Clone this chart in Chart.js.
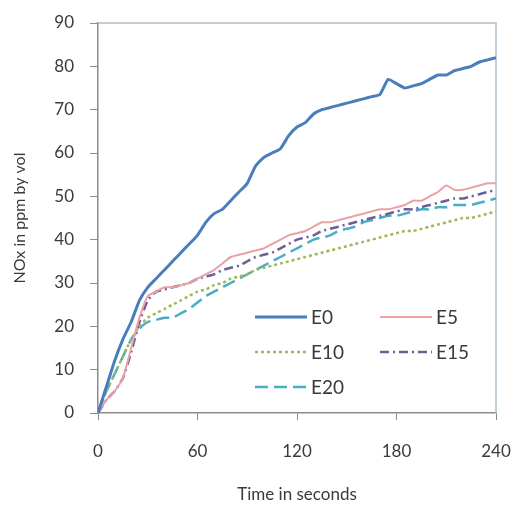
<!DOCTYPE html>
<html>
<head>
<meta charset="utf-8">
<script src="https://cdn.jsdelivr.net/npm/chart.js@4"></script>
<style>
  html, body { margin: 0; padding: 0; background: #ffffff; }
  #wrap { width: 517px; height: 509px; }
</style>
</head>
<body>
<div id="wrap"><canvas id="c" width="517" height="509"></canvas></div>
<script>
// time axis (seconds)
var times = [0,5,10,15,20,25,30,35,40,45,50,55,60,65,70,75,80,85,90,95,100,105,110,115,120,
             125,130,135,140,145,150,155,160,165,170,175,180,185,190,195,200,205,210,215,220,225,230,235,240];

// NOx readings, ppm by vol
var e0  = [0,6,12,17,21,26,29,31,33,35,37,39,41,44,46,47,49,51,53,57,59,60,61,64,66,
           67,69,70,70.5,71,71.5,72,72.5,73,73.5,77,76,75,75.5,76,77,78,78,79,79.5,80,81,81.5,82];
var e5  = [0,3,5,8,15,22,27,28,29,29,29.5,30,31,32,33,34.5,36,36.5,37,37.5,38,39,40,41,41.5,
           42,43,44,44,44.5,45,45.5,46,46.5,47,47,47.5,48,49,49,50,51,52.5,51.5,51.5,52,52.5,53,53];
var e10 = [0,5,9,13,17,20,22,23,24,25,26,27,28,28.5,29.5,30,31,31.5,32,33,33.5,34,34.5,35,35.5,
           36,36.5,37,37.5,38,38.5,39,39.5,40,40.5,41,41.5,42,42,42.5,43,43.5,44,44.5,45,45,45.5,46,46.5];
var e15 = [0,3,5,8,14,21,26,28,28.5,29,29.5,30,31,31.5,32,33,33.5,34,35,36,36.5,37,38,39,40,
           40.5,41,42,42.5,43,43.5,44,44.5,45,45.5,46,46.5,47,47,47.5,48,48.5,49,49.5,49.5,50,50.5,51,51.5];
var e20 = [0,5,9,13,17,19.5,21,21.5,22,22,23,24,25.5,27,28,29,30,31,32,33,34,35,36,37,38,
           39,40,40.5,41,42,42.5,43,44,44.5,45,45.5,45.5,46,46.5,47,47,47.5,47.5,48,48,48,48.5,49,49.5];

var seriesNames = ["E0", "E5", "E10", "E15", "E20"];
var xTicks = [0, 60, 120, 180, 240];
var yTicks = [0,10,20,30,40,50,60,70,80,90];

function pts(vals) {
    var out = [];
    for (var i = 0; i < times.length; i++) out.push({x: times[i], y: vals[i]});
    return out;
}

var styles = [
    {color: "#4a7ebb", width: 3,   dash: []},
    {color: "#e8a3a6", width: 2,   dash: []},
    {color: "#9bbb59", width: 2.5, dash: [3, 3]},
    {color: "#6f5d98", width: 2.5, dash: [9, 4, 2, 4]},
    {color: "#4bacc6", width: 2.5, dash: [13, 6]}
];
var allVals = [e0, e5, e10, e15, e20];

var datasets = [];
for (var i = 0; i < allVals.length; i++) {
    datasets.push({
        label: seriesNames[i],
        data: pts(allVals[i]),
        borderColor: styles[i].color,
        borderWidth: styles[i].width,
        borderDash: styles[i].dash,
        pointRadius: 0,
        tension: 0.15,
        fill: false
    });
}

// frame around the plot + legend inside plot
var framePlugin = {
    id: "frame",
    beforeDatasetsDraw: function(chart) {
        var a = chart.chartArea, ctx = chart.ctx;
        ctx.save();
        ctx.strokeStyle = "#aebfc7";
        ctx.lineWidth = 1.5;
        ctx.beginPath();
        ctx.moveTo(a.left, a.top);
        ctx.lineTo(a.right, a.top);
        ctx.lineTo(a.right, a.bottom);
        ctx.stroke();
        ctx.restore();
    },
    afterDraw: function(chart) {
        var ctx = chart.ctx;
        var spots = [
            {x: 255, y: 317}, {x: 380, y: 317},
            {x: 255, y: 352}, {x: 380, y: 352},
            {x: 255, y: 387}
        ];
        ctx.save();
        ctx.font = "19px Lato, 'Open Sans', sans-serif";
        ctx.fillStyle = "#3a3a3a";
        ctx.textBaseline = "middle";
        for (var i = 0; i < spots.length; i++) {
            var ds = chart.data.datasets[i];
            ctx.strokeStyle = ds.borderColor;
            ctx.lineWidth = ds.borderWidth;
            ctx.setLineDash(ds.borderDash);
            ctx.beginPath();
            ctx.moveTo(spots[i].x, spots[i].y);
            ctx.lineTo(spots[i].x + 52, spots[i].y);
            ctx.stroke();
            ctx.setLineDash([]);
            ctx.fillText(ds.label, spots[i].x + 56, spots[i].y + 1);
        }
        ctx.restore();
    }
};

new Chart(document.getElementById("c"), {
    type: "line",
    data: { datasets: datasets },
    options: {
        responsive: false,
        animation: false,
        layout: { padding: { top: 23, right: 21, left: 6, bottom: 0 } },
        plugins: {
            legend: { display: false },
            tooltip: { enabled: false }
        },
        scales: {
            x: {
                type: "linear",
                min: 0, max: 240,
                afterBuildTicks: function(s) { s.ticks = xTicks.map(function(v){ return {value: v}; }); },
                afterFit: function(s) { s.height = 96; s.paddingRight = 0; s.paddingLeft = 0; },
                grid: { drawOnChartArea: false, drawTicks: true, tickLength: 7, color: "#8c8c8c" },
                border: { color: "#8c8c8c", width: 1.5 },
                ticks: { color: "#3a3a3a", font: { family: "Lato", size: 17 }, padding: 21, maxRotation: 0 },
                title: { display: true, text: "Time in seconds", color: "#3a3a3a",
                         font: { family: "Lato", size: 17 }, padding: { top: 6 } }
            },
            y: {
                min: 0, max: 90,
                afterBuildTicks: function(s) { s.ticks = yTicks.map(function(v){ return {value: v}; }); },
                afterFit: function(s) { s.width = 92; s.paddingTop = 0; s.paddingBottom = 0; },
                grid: { drawOnChartArea: false, drawTicks: true, tickLength: 8, color: "#8c8c8c" },
                border: { color: "#8c8c8c", width: 1.5 },
                ticks: { color: "#3a3a3a", font: { family: "Lato", size: 17 }, padding: 16 },
                title: { display: true, text: "NOx in ppm by vol", color: "#3a3a3a",
                         font: { family: "Lato", size: 16 }, padding: { bottom: 8 } }
            }
        }
    },
    plugins: [framePlugin]
});
</script>
</body>
</html>
